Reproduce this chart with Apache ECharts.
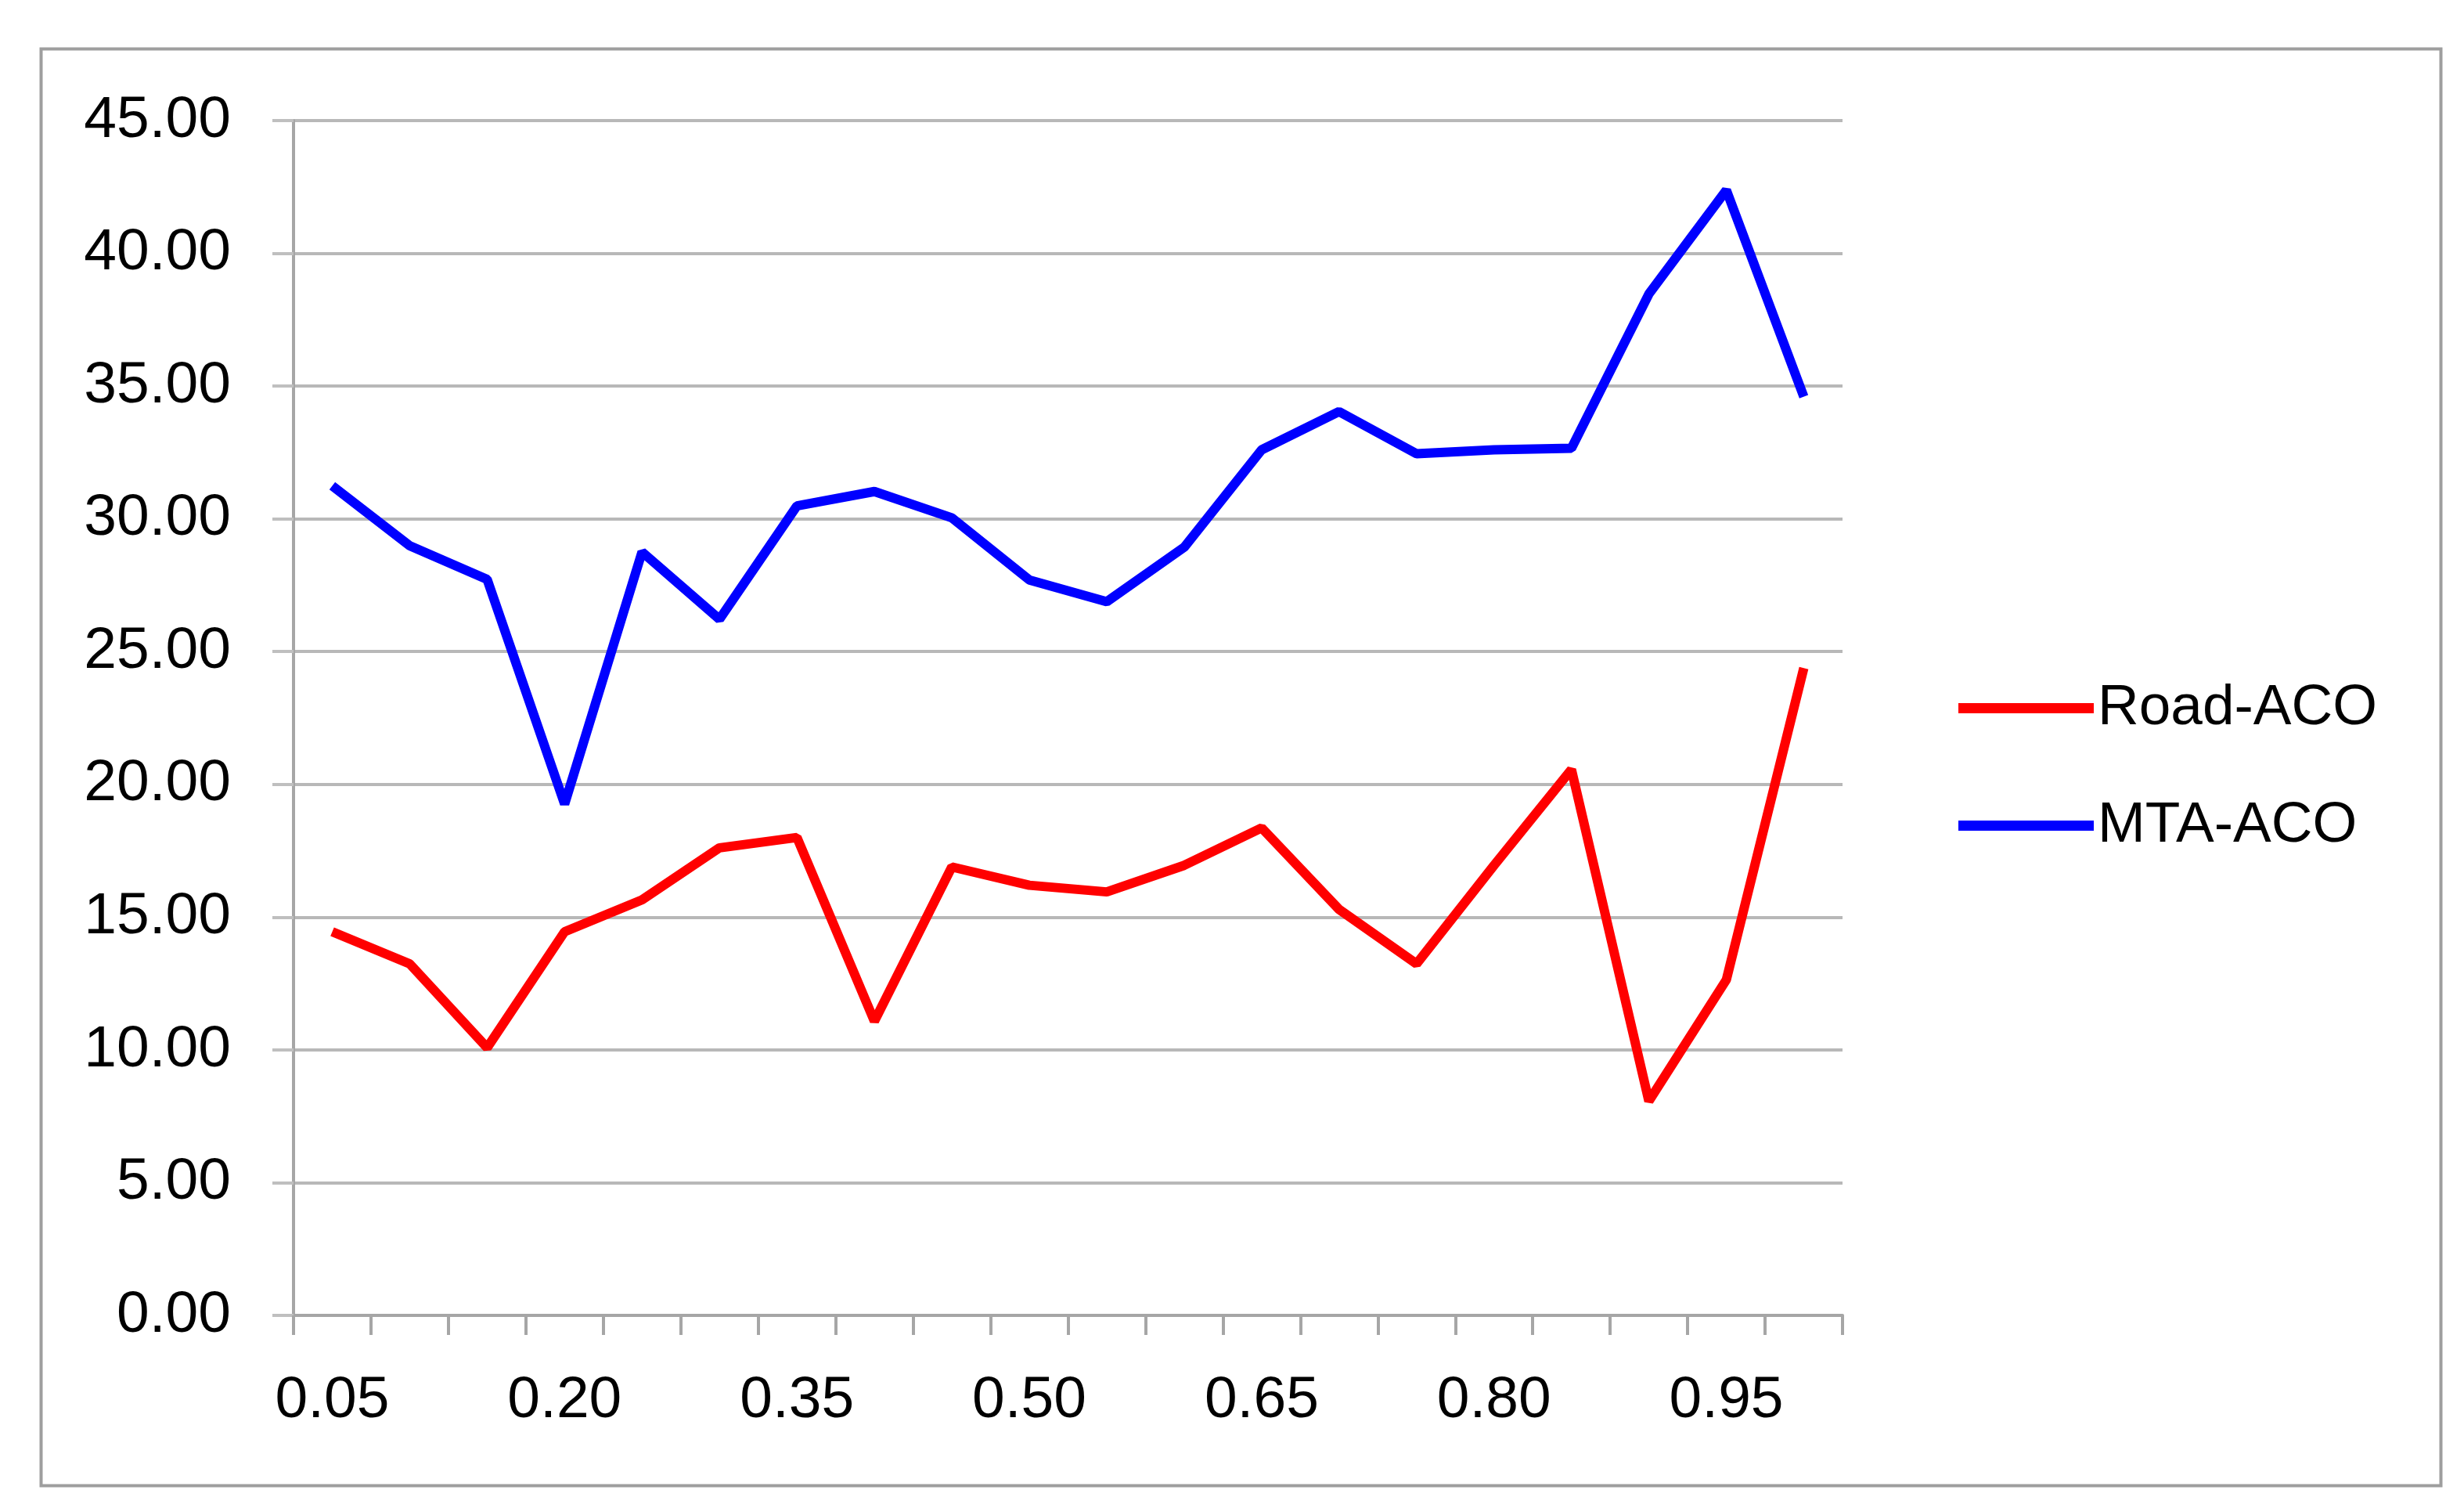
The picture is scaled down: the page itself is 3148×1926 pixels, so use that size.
<!DOCTYPE html>
<html>
<head>
<meta charset="utf-8">
<script src="https://cdn.jsdelivr.net/npm/echarts@6/dist/echarts.min.js"></script>
<style>
html,body{margin:0;padding:0;background:#fff;}
#chart{width:3148px;height:1926px;}
</style>
</head>
<body>
<div id="chart"></div>
<script>
var categories = ['0.05','0.10','0.15','0.20','0.25','0.30','0.35','0.40','0.45','0.50','0.55','0.60','0.65','0.70','0.75','0.80','0.85','0.90','0.95','1.00'];
var roadACO = [14.45,13.24,10.08,14.45,15.65,17.61,18.0,11.08,16.89,16.2,15.95,16.95,18.36,15.29,13.24,16.95,20.56,8.07,12.64,24.38];
var mtaACO = [31.24,28.99,27.72,19.26,28.75,26.22,30.49,31.03,30.04,27.7,26.88,28.93,32.6,34.04,32.45,32.6,32.66,38.47,42.38,34.6];
var seriesNames = ['Road-ACO','MTA-ACO'];

var FONT = '"Liberation Sans", Arial, sans-serif';
var chart = echarts.init(document.getElementById('chart'), null, {renderer:'canvas'});
chart.setOption({
  backgroundColor:'#ffffff',
  animation:false,
  graphic:[{
    type:'rect', left:50, top:60, shape:{width:3066, height:1835},
    style:{fill:'none', stroke:'#9e9e9e', lineWidth:4}, silent:true, z:-1
  }],
  grid:{left:375, right:794, top:154, bottom:246, containLabel:false},
  legend:{
    orient:'vertical', left:2497, top:863, itemGap:77,
    icon:'rect', itemWidth:173, itemHeight:13,
    textStyle:{fontFamily:FONT, fontSize:73, color:'#000'},
    data:seriesNames
  },
  xAxis:{
    type:'category', data:categories, boundaryGap:true,
    axisLine:{show:true, lineStyle:{color:'#a6a6a6', width:4}},
    axisTick:{show:true, interval:0, length:25, inside:false, lineStyle:{color:'#a6a6a6', width:4}},
    axisLabel:{interval:2, margin:72, fontFamily:FONT, fontSize:75, color:'#000'},
    splitLine:{show:false}
  },
  yAxis:{
    type:'value', min:0, max:45, interval:5,
    axisLine:{show:true, lineStyle:{color:'#a6a6a6', width:4}},
    axisTick:{show:true, length:27, lineStyle:{color:'#bfbfbf', width:4}},
    axisLabel:{margin:80, fontFamily:FONT, fontSize:75, color:'#000',
      formatter:function(v){return v.toFixed(2);}},
    splitLine:{show:true, lineStyle:{color:'#b8b8b8', width:4}}
  },
  series:[
    {name:seriesNames[0], type:'line', data:roadACO, symbol:'none', color:'#ff0000',
     lineStyle:{color:'#ff0000', width:12}},
    {name:seriesNames[1], type:'line', data:mtaACO, symbol:'none', color:'#0000ff',
     lineStyle:{color:'#0000ff', width:12}}
  ]
});
</script>
</body>
</html>
